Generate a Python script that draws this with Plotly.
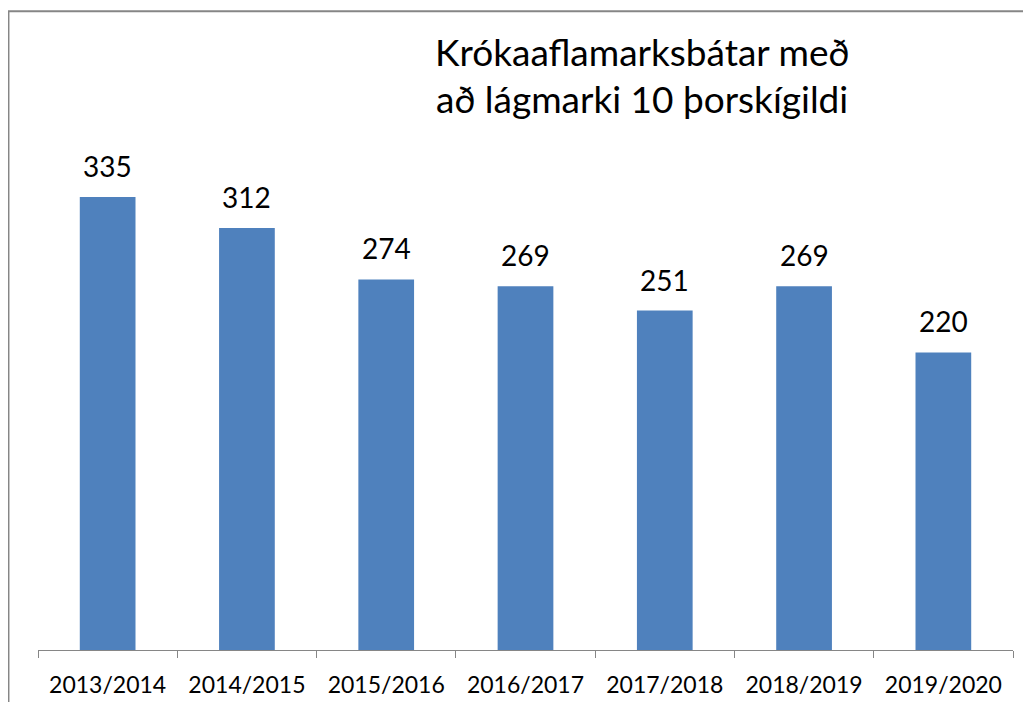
import plotly.graph_objects as go

categories = ["2013/2014", "2014/2015", "2015/2016", "2016/2017", "2017/2018", "2018/2019", "2019/2020"]
values = [335, 312, 274, 269, 251, 269, 220]
title_lines = ["Krókaaflamarksbátar með", "að lágmarki 10 þorskígildi"]

FONT = "Lato, Carlito, Calibri, sans-serif"
BAR = "#4F81BD"
GRID = "#868686"

fig = go.Figure()
fig.add_trace(go.Bar(x=categories, y=values, marker=dict(color=BAR, line=dict(width=0)),
                     hoverinfo="skip"))

annotations = []
for c, v in zip(categories, values):
    annotations.append(dict(x=c, y=v, xref="x", yref="y", text=str(v), showarrow=False,
                            yanchor="bottom", yshift=12,
                            font=dict(family=FONT, size=28, color="#000000")))
annotations.append(dict(x=0.619, y=1.107, xref="paper", yref="paper", text=title_lines[0],
                        showarrow=False, xanchor="center", yanchor="middle",
                        font=dict(family=FONT, size=37, color="#000000")))
annotations.append(dict(x=0.619, y=1.019, xref="paper", yref="paper", text=title_lines[1],
                        showarrow=False, xanchor="center", yanchor="middle",
                        font=dict(family=FONT, size=37, color="#000000")))

fig.update_layout(
    width=1015, height=694,
    margin=dict(l=30, r=10, t=101, b=52, autoexpand=False),
    paper_bgcolor="white", plot_bgcolor="white",
    bargap=0.6,
    showlegend=False,
    annotations=annotations,
    shapes=[dict(type="rect", xref="paper", yref="paper",
                 x0=-0.0303, x1=1.2, y0=-0.3, y1=1.1805,
                 line=dict(color=GRID, width=2), fillcolor="rgba(0,0,0,0)", layer="below")],
    xaxis=dict(showline=True, linecolor=GRID, linewidth=1, ticks="outside", tickson="boundaries",
               ticklen=7, tickcolor=GRID, tickwidth=1, showgrid=False, zeroline=False,
               automargin=False,
               tickfont=dict(family=FONT, size=23, color="#000000"), ticklabelstandoff=14),
    yaxis=dict(range=[0, 400], visible=False, showgrid=False, zeroline=False),
)

fig.write_html("out.html")
